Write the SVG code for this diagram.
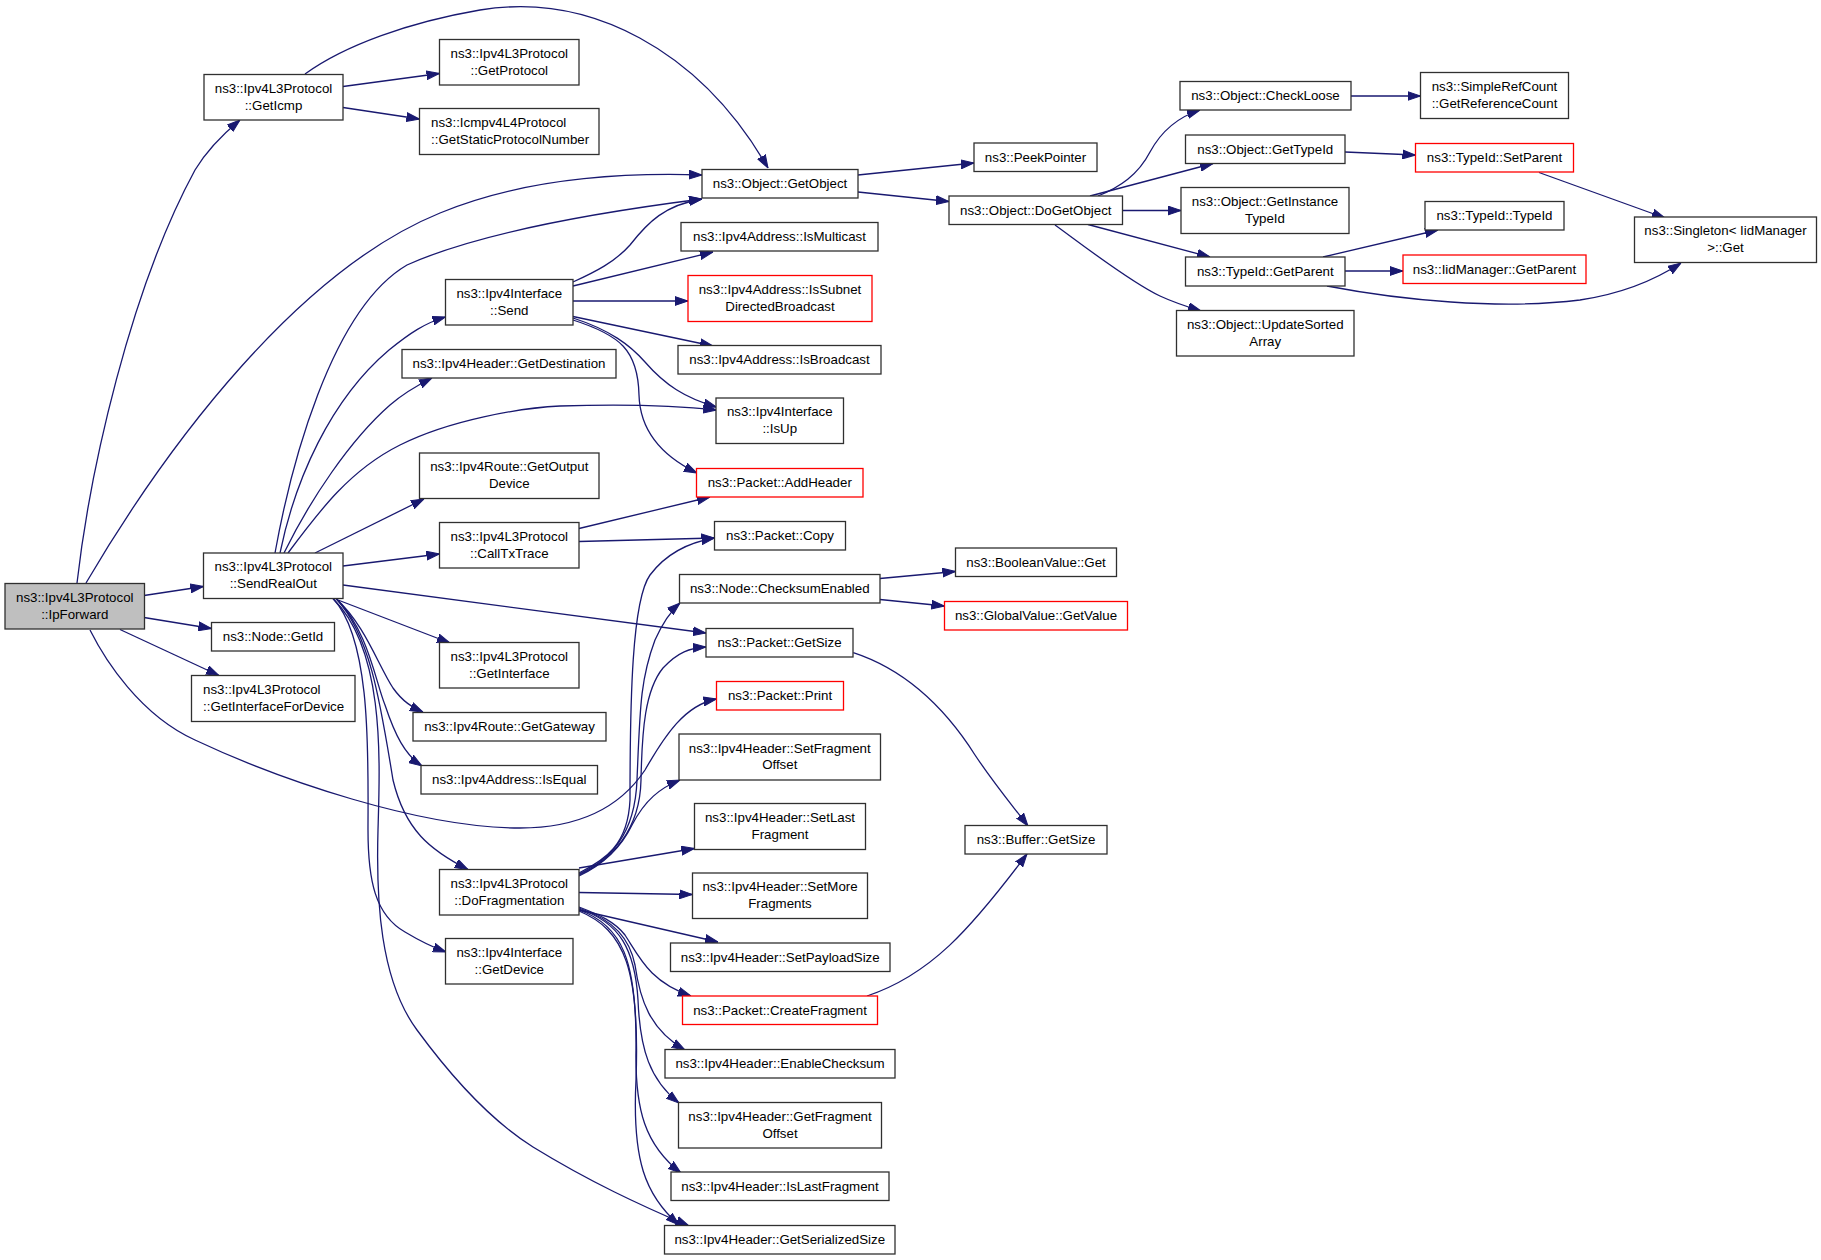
<svg xmlns="http://www.w3.org/2000/svg" width="1821" height="1260" viewBox="0 0 1821 1260">
<style>
.n rect{fill:#fff;stroke:#303030;stroke-width:1.3}
.n.r rect{stroke:#ff0000}
.n.g rect{fill:#bfbfbf}
text{font-family:"Liberation Sans",Arial,Helvetica,sans-serif;font-size:13.3px;fill:#000;text-anchor:middle}
text.l{text-anchor:start}
#edges path{fill:none;stroke:#191970;stroke-width:1.3;marker-end:url(#a)}
</style>
<defs>
<marker id="a" markerWidth="13" markerHeight="10" viewBox="0 0 13 10" refX="13" refY="5" orient="auto" markerUnits="userSpaceOnUse">
<path d="M0,0.6 L13,5 L0,9.4 Z" fill="#191970" stroke="#191970" stroke-width="1"/>
</marker>
</defs>
<rect width="1821" height="1260" fill="#fff"/>
<g id="edges">
<path d="M77,583 C90,470 130,290 195,170 C207,150 222,135 240,120"/>
<path d="M86,583 C170,440 300,270 440,213 C520,180 610,172 702,175"/>
<path d="M144,595.5 L203.5,586.5"/>
<path d="M144,617.5 L211.5,628.5"/>
<path d="M120,629.5 L219,675.5"/>
<path d="M90,630 C105,660 140,715 195,740 C280,780 420,828 520,828 C590,828 625,800 645,770 C665,735 685,705 716.5,699"/>
<path d="M305,74 C345,45 410,22 480,10 C590,-8 700,50 768,168"/>
<path d="M343,86.5 L439.5,73.5"/>
<path d="M343,107.5 L419.5,119"/>
<path d="M858,175 L974,163"/>
<path d="M858,192 L949,201.5"/>
<path d="M1098,196 C1120,187 1138,175 1150,152 C1162,130 1178,117 1200,110"/>
<path d="M1090,196 L1213,163.5"/>
<path d="M1122.5,210.5 L1181,210.5"/>
<path d="M1088,224.5 L1210,257"/>
<path d="M1055,225 C1080,243 1130,282 1160,296 C1175,303 1188,307 1201,311"/>
<path d="M1351,96 L1420.5,96"/>
<path d="M1345,152 L1415.5,155"/>
<path d="M1539,172.5 L1665,218"/>
<path d="M1323,257 L1438,230"/>
<path d="M1345,271 L1403,271"/>
<path d="M1327,286 C1400,300 1500,310 1580,300 C1620,294 1655,280 1681,263"/>
<path d="M275,553 C290,470 330,310 407,265 C480,232 600,212 702,199"/>
<path d="M280,553 C295,480 330,400 389,350 C410,333 425,323 445.5,317"/>
<path d="M284,553 C310,500 350,440 390,405 C405,392 418,385 432,378"/>
<path d="M288,553 C320,510 350,470 400,445 C450,420 520,408 560,406 C620,404 680,406 716.5,410"/>
<path d="M315,553 L424,499"/>
<path d="M343,566 L439.5,554"/>
<path d="M343,585 L706,633"/>
<path d="M338,600 L450,643"/>
<path d="M336,598.5 C365,625 378,665 393,688 C403,702 412,707 423,712"/>
<path d="M336,598.5 C368,630 375,680 385,705 C395,735 405,755 422,766"/>
<path d="M336,598.5 C370,635 380,700 393,780 C405,830 430,850 468,869.5"/>
<path d="M333,598.5 C372,640 368,760 368,830 C368,880 375,915 405,932 C420,941 432,947 446,952"/>
<path d="M333,598.5 C385,650 380,760 378,830 C376,900 380,980 417,1030 C450,1075 490,1120 533,1147 C590,1182 640,1205 689,1226"/>
<path d="M573,282 C595,272 615,262 630,245 C648,222 665,205 702,199"/>
<path d="M573,286 L713,252"/>
<path d="M573,301 L688,301"/>
<path d="M573,316.5 L713,346"/>
<path d="M573,318 C610,330 630,345 645,362 C665,385 685,398 716.5,407"/>
<path d="M573,320 C620,335 638,350 639,395 C640,430 660,455 697,473"/>
<path d="M579,528.5 L710,497"/>
<path d="M579,541.5 L714.5,538"/>
<path d="M880,578.5 L955.5,571.5"/>
<path d="M880,599.5 L944.5,606"/>
<path d="M853.3,652.7 C900,668 940,700 975,755 C995,785 1012,805 1028,826"/>
<path d="M867,996 C930,975 970,930 1027,854"/>
<path d="M579,873 C605,860 628,845 630,800 C630,700 632,600 650,575 C665,555 685,543 714.5,538"/>
<path d="M579,874 C610,860 635,835 637,780 C640,710 640,680 655,640 C664,620 672,610 680,603"/>
<path d="M579,875 C612,860 640,830 641,780 C642,730 645,690 663,668 C678,652 690,648 706,647"/>
<path d="M579,876 C600,866 620,850 632,825 C645,800 660,788 680,780"/>
<path d="M579,868 L694.5,848.5"/>
<path d="M579,892.5 L692.5,894.5"/>
<path d="M579,910 L718,942"/>
<path d="M579,907 C600,915 615,922 625,935 C640,958 650,982 691,996"/>
<path d="M579,908 C615,920 630,940 635,965 C640,1000 650,1030 685,1050"/>
<path d="M579,909 C620,922 635,950 638,1000 C640,1050 650,1080 679,1103"/>
<path d="M579,910 C622,925 637,960 636,1050 C635,1110 645,1145 681,1173"/>
<path d="M579,911 C625,930 640,970 636,1080 C632,1160 645,1195 679,1225"/>
</g>
<g id="IpForward" class="n g"><rect x="5" y="583.5" width="139.5" height="45.5"/><text x="74.75" y="601.95">ns3::Ipv4L3Protocol</text><text x="74.75" y="618.65">::IpForward</text></g>
<g id="GetIcmp" class="n"><rect x="204" y="74.5" width="139" height="45.5"/><text x="273.5" y="92.95">ns3::Ipv4L3Protocol</text><text x="273.5" y="109.65">::GetIcmp</text></g>
<g id="GetProtocol" class="n"><rect x="439.5" y="39.5" width="139.5" height="45.5"/><text x="509.25" y="57.95">ns3::Ipv4L3Protocol</text><text x="509.25" y="74.65">::GetProtocol</text></g>
<g id="GetStaticProtocolNumber" class="n"><rect x="419.5" y="108.5" width="179.5" height="46"/><text class="l" x="431" y="127.2">ns3::Icmpv4L4Protocol</text><text class="l" x="431" y="143.9">::GetStaticProtocolNumber</text></g>
<g id="GetObject" class="n"><rect x="702" y="169.5" width="156" height="28.5"/><text x="780" y="188.35">ns3::Object::GetObject</text></g>
<g id="PeekPointer" class="n"><rect x="974" y="143" width="123" height="28.5"/><text x="1035.5" y="161.85">ns3::PeekPointer</text></g>
<g id="DoGetObject" class="n"><rect x="949" y="196" width="173.5" height="28.5"/><text x="1035.75" y="214.85">ns3::Object::DoGetObject</text></g>
<g id="CheckLoose" class="n"><rect x="1180" y="81.5" width="171" height="28.5"/><text x="1265.5" y="100.35">ns3::Object::CheckLoose</text></g>
<g id="GetReferenceCount" class="n"><rect x="1420.5" y="72.5" width="148" height="46"/><text x="1494.5" y="91.2">ns3::SimpleRefCount</text><text x="1494.5" y="107.9">::GetReferenceCount</text></g>
<g id="GetTypeId" class="n"><rect x="1185.5" y="135" width="159.5" height="28.5"/><text x="1265.25" y="153.85">ns3::Object::GetTypeId</text></g>
<g id="SetParent" class="n r"><rect x="1415.5" y="143.5" width="158" height="28.5"/><text x="1494.5" y="162.35">ns3::TypeId::SetParent</text></g>
<g id="GetInstanceTypeId" class="n"><rect x="1181" y="187.5" width="168" height="46"/><text x="1265" y="206.2">ns3::Object::GetInstance</text><text x="1265" y="222.9">TypeId</text></g>
<g id="TypeIdTypeId" class="n"><rect x="1425" y="201.5" width="139" height="28.5"/><text x="1494.5" y="220.35">ns3::TypeId::TypeId</text></g>
<g id="SingletonGet" class="n"><rect x="1634.5" y="217" width="182" height="45.5"/><text x="1725.5" y="235.45">ns3::Singleton&lt; IidManager</text><text x="1725.5" y="252.15">&gt;::Get</text></g>
<g id="TypeIdGetParent" class="n"><rect x="1185.5" y="257" width="159.5" height="29"/><text x="1265.25" y="276.1">ns3::TypeId::GetParent</text></g>
<g id="IidManagerGetParent" class="n r"><rect x="1403" y="255" width="183" height="28.5"/><text x="1494.5" y="273.85">ns3::IidManager::GetParent</text></g>
<g id="UpdateSortedArray" class="n"><rect x="1176.5" y="310.5" width="177.5" height="45.5"/><text x="1265.25" y="328.95">ns3::Object::UpdateSorted</text><text x="1265.25" y="345.65">Array</text></g>
<g id="Send" class="n"><rect x="445.5" y="279.5" width="127.5" height="45.5"/><text x="509.25" y="297.95">ns3::Ipv4Interface</text><text x="509.25" y="314.65">::Send</text></g>
<g id="IsMulticast" class="n"><rect x="681" y="222.5" width="197" height="28.5"/><text x="779.5" y="241.35">ns3::Ipv4Address::IsMulticast</text></g>
<g id="IsSubnetDirectedBroadcast" class="n r"><rect x="688" y="275.5" width="184" height="46"/><text x="780" y="294.2">ns3::Ipv4Address::IsSubnet</text><text x="780" y="310.9">DirectedBroadcast</text></g>
<g id="IsBroadcast" class="n"><rect x="678" y="345.5" width="203" height="28.5"/><text x="779.5" y="364.35">ns3::Ipv4Address::IsBroadcast</text></g>
<g id="GetDestination" class="n"><rect x="402" y="349.5" width="214" height="28.5"/><text x="509" y="368.35">ns3::Ipv4Header::GetDestination</text></g>
<g id="IsUp" class="n"><rect x="716" y="398" width="127.5" height="45.5"/><text x="779.75" y="416.45">ns3::Ipv4Interface</text><text x="779.75" y="433.15">::IsUp</text></g>
<g id="GetOutputDevice" class="n"><rect x="419.5" y="453" width="179.5" height="45.5"/><text x="509.25" y="471.45">ns3::Ipv4Route::GetOutput</text><text x="509.25" y="488.15">Device</text></g>
<g id="AddHeader" class="n r"><rect x="696.5" y="468.5" width="166.5" height="28.5"/><text x="779.75" y="487.35">ns3::Packet::AddHeader</text></g>
<g id="CallTxTrace" class="n"><rect x="439.5" y="522.5" width="139.5" height="45.5"/><text x="509.25" y="540.95">ns3::Ipv4L3Protocol</text><text x="509.25" y="557.65">::CallTxTrace</text></g>
<g id="Copy" class="n"><rect x="714.5" y="521.5" width="131" height="28.5"/><text x="780" y="540.35">ns3::Packet::Copy</text></g>
<g id="SendRealOut" class="n"><rect x="203.5" y="553" width="139.5" height="45.5"/><text x="273.25" y="571.45">ns3::Ipv4L3Protocol</text><text x="273.25" y="588.15">::SendRealOut</text></g>
<g id="BooleanValueGet" class="n"><rect x="955.5" y="548" width="161" height="28.5"/><text x="1036" y="566.85">ns3::BooleanValue::Get</text></g>
<g id="ChecksumEnabled" class="n"><rect x="679.5" y="574.5" width="200.5" height="28.5"/><text x="779.75" y="593.35">ns3::Node::ChecksumEnabled</text></g>
<g id="GetValue" class="n r"><rect x="944.5" y="601.5" width="183" height="28.5"/><text x="1036" y="620.35">ns3::GlobalValue::GetValue</text></g>
<g id="NodeGetId" class="n"><rect x="211.5" y="622.5" width="123" height="28.5"/><text x="273" y="641.35">ns3::Node::GetId</text></g>
<g id="PacketGetSize" class="n"><rect x="706" y="628.5" width="147" height="28.5"/><text x="779.5" y="647.35">ns3::Packet::GetSize</text></g>
<g id="GetInterface" class="n"><rect x="439.5" y="642.5" width="139.5" height="45.5"/><text x="509.25" y="660.95">ns3::Ipv4L3Protocol</text><text x="509.25" y="677.65">::GetInterface</text></g>
<g id="GetInterfaceForDevice" class="n"><rect x="191.5" y="675.5" width="163.5" height="46"/><text class="l" x="203" y="694.2">ns3::Ipv4L3Protocol</text><text class="l" x="203" y="710.9">::GetInterfaceForDevice</text></g>
<g id="GetGateway" class="n"><rect x="413" y="712.5" width="193" height="28.5"/><text x="509.5" y="731.35">ns3::Ipv4Route::GetGateway</text></g>
<g id="Print" class="n r"><rect x="716.5" y="681.5" width="127" height="28.5"/><text x="780" y="700.35">ns3::Packet::Print</text></g>
<g id="SetFragmentOffset" class="n"><rect x="679" y="734" width="201.5" height="46"/><text x="779.75" y="752.7">ns3::Ipv4Header::SetFragment</text><text x="779.75" y="769.4">Offset</text></g>
<g id="IsEqual" class="n"><rect x="421" y="765.5" width="176.5" height="28.5"/><text x="509.25" y="784.35">ns3::Ipv4Address::IsEqual</text></g>
<g id="SetLastFragment" class="n"><rect x="694.5" y="803.5" width="171" height="46"/><text x="780" y="822.2">ns3::Ipv4Header::SetLast</text><text x="780" y="838.9">Fragment</text></g>
<g id="BufferGetSize" class="n"><rect x="965" y="825.5" width="142" height="28.5"/><text x="1036" y="844.35">ns3::Buffer::GetSize</text></g>
<g id="DoFragmentation" class="n"><rect x="439.5" y="869.5" width="139.5" height="45.5"/><text x="509.25" y="887.95">ns3::Ipv4L3Protocol</text><text x="509.25" y="904.65">::DoFragmentation</text></g>
<g id="SetMoreFragments" class="n"><rect x="692.5" y="873" width="175" height="45.5"/><text x="780" y="891.45">ns3::Ipv4Header::SetMore</text><text x="780" y="908.15">Fragments</text></g>
<g id="GetDevice" class="n"><rect x="445.5" y="938.5" width="127.5" height="45.5"/><text x="509.25" y="956.95">ns3::Ipv4Interface</text><text x="509.25" y="973.65">::GetDevice</text></g>
<g id="SetPayloadSize" class="n"><rect x="670.5" y="943" width="219.5" height="28.5"/><text x="780.25" y="961.85">ns3::Ipv4Header::SetPayloadSize</text></g>
<g id="CreateFragment" class="n r"><rect x="682.5" y="996" width="195" height="28.5"/><text x="780" y="1014.85">ns3::Packet::CreateFragment</text></g>
<g id="EnableChecksum" class="n"><rect x="665" y="1049.5" width="230" height="28.5"/><text x="780" y="1068.35">ns3::Ipv4Header::EnableChecksum</text></g>
<g id="GetFragmentOffset" class="n"><rect x="678.5" y="1102.5" width="203" height="45.5"/><text x="780" y="1120.95">ns3::Ipv4Header::GetFragment</text><text x="780" y="1137.65">Offset</text></g>
<g id="IsLastFragment" class="n"><rect x="671" y="1172" width="218" height="28.5"/><text x="780" y="1190.85">ns3::Ipv4Header::IsLastFragment</text></g>
<g id="GetSerializedSize" class="n"><rect x="664.5" y="1225.5" width="230.5" height="28.5"/><text x="779.75" y="1244.35">ns3::Ipv4Header::GetSerializedSize</text></g>
</svg>
